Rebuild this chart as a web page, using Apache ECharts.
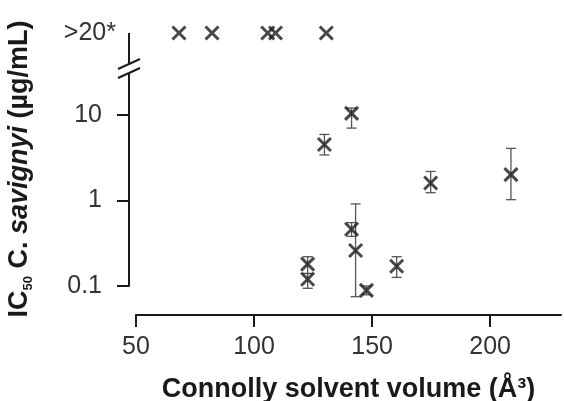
<!DOCTYPE html>
<html>
<head>
<meta charset="utf-8">
<script src="https://cdn.jsdelivr.net/npm/echarts@6/dist/echarts.min.js"></script>
<style>
html,body{margin:0;padding:0;background:#fff;}
#main{width:564px;height:401px;}
</style>
</head>
<body>
<div id="main"></div>
<script>
// compounds with measured IC50 (Connolly solvent volume, IC50, error range)
var volume   = [129.8, 141.3, 141.3, 143.0, 122.7, 122.7, 147.6, 160.4, 174.8, 208.8];
var ic50     = [4.5,   10.4,  0.46,  0.26,  0.18,  0.12,  0.089, 0.17,  1.6,   2.0];
var errLow   = [3.4,   7.0,   0.38,  0.075, 0.14,  0.094, 0.079, 0.126, 1.23,  1.02];
var errHigh  = [5.9,   12.0,  0.55,  0.91,  0.22,  0.14,  0.10,  0.22,  2.18,  4.06];
// compounds above the tested range (>20 µg/mL)
var volumeInactive = [68.2, 82.2, 105.8, 109.1, 130.6];
var inactiveLabel = ['>20*'];
var xTicks = [50, 100, 150, 200];
var yTicks = [0.1, 1, 10];

var ink = '#1a1a1a';
var font = 'Liberation Sans, Arial, sans-serif';
var crossSymbol = 'path://M0,0L1,1M1,0L0,1';

var points = [], bars = [], inactive = [];
for (var i = 0; i < volume.length; i++) {
	points.push([volume[i], ic50[i]]);
	bars.push([volume[i], errLow[i], errHigh[i]]);
}
for (var j = 0; j < volumeInactive.length; j++) {
	inactive.push([volumeInactive[j], inactiveLabel[0]]);
}

function errorBar(params, api) {
	var x = api.value(0);
	var lo = api.coord([x, api.value(1)]);
	var hi = api.coord([x, api.value(2)]);
	var w = 5;
	var st = {stroke: '#555', lineWidth: 1.3};
	return {
		type: 'group',
		children: [
			{type: 'line', shape: {x1: lo[0], y1: lo[1], x2: hi[0], y2: hi[1]}, style: st},
			{type: 'line', shape: {x1: lo[0] - w, y1: lo[1], x2: lo[0] + w, y2: lo[1]}, style: st},
			{type: 'line', shape: {x1: hi[0] - w, y1: hi[1], x2: hi[0] + w, y2: hi[1]}, style: st}
		]
	};
}

var myChart = echarts.init(document.getElementById('main'));
var option = {
	backgroundColor: '#fff',
	animation: false,
	grid: [
		{left: 136, right: 3, top: 74, bottom: 115, outerBoundsMode: 'none'},
		{left: 136, right: 3, top: 23, height: 20, outerBoundsMode: 'none'}
	],
	xAxis: [
		{
			type: 'value', gridIndex: 0, min: 50, max: 230, interval: 50,
			offset: 29,
			name: 'Connolly solvent volume (Å³)',
			nameLocation: 'middle', nameGap: 61,
			nameTextStyle: {color: ink, fontFamily: font, fontSize: 27, fontWeight: 'bold'},
			axisLine: {lineStyle: {color: ink, width: 2}},
			axisTick: {length: 12, lineStyle: {color: ink, width: 2}, customValues: xTicks},
			axisLabel: {color: '#333', fontFamily: font, fontSize: 25, margin: 20, customValues: xTicks},
			splitLine: {show: false}
		},
		{type: 'value', gridIndex: 1, min: 50, max: 230, show: false}
	],
	yAxis: [
		{
			type: 'log', gridIndex: 0, min: 0.1, max: 30, logBase: 10,
			offset: 7,
			name: '{a|IC}{s|50}{a| C. }{i|savignyi}{a| (µg/mL)}',
			nameLocation: 'middle', nameGap: 94, nameRotate: 90,
			nameTextStyle: {
				padding: [0, 0, 0, 22],
				rich: {
					a: {color: ink, fontFamily: font, fontSize: 27, fontWeight: 'bold', lineHeight: 30},
					i: {color: ink, fontFamily: font, fontSize: 27, fontWeight: 'bold', fontStyle: 'italic', lineHeight: 30},
					s: {color: ink, fontFamily: font, fontSize: 13, fontWeight: 'bold', verticalAlign: 'bottom', lineHeight: 30}
				}
			},
			axisLine: {lineStyle: {color: ink, width: 2}},
			axisTick: {length: 12, lineStyle: {color: ink, width: 2}, customValues: yTicks},
			axisLabel: {
				color: '#333', fontFamily: font, fontSize: 25, margin: 27, customValues: yTicks,
				formatter: function (v) { return String(v); }
			},
			splitLine: {show: false}
		},
		{
			type: 'category', gridIndex: 1, data: inactiveLabel,
			offset: 7,
			axisLine: {show: false},
			axisTick: {alignWithLabel: true, length: 12, lineStyle: {color: ink, width: 2}},
			axisLabel: {color: '#333', fontFamily: font, fontSize: 25, margin: 13}
		}
	],
	graphic: [
		// axis segment above the break
		{type: 'line', shape: {x1: 129, y1: 33, x2: 129, y2: 64}, style: {stroke: ink, lineWidth: 2}},
		// break marks
		{type: 'line', shape: {x1: 118, y1: 69, x2: 140, y2: 59}, style: {stroke: ink, lineWidth: 2}},
		{type: 'line', shape: {x1: 118, y1: 78, x2: 140, y2: 68}, style: {stroke: ink, lineWidth: 2}}
	],
	series: [
		{
			type: 'custom', xAxisIndex: 0, yAxisIndex: 0,
			renderItem: errorBar, clip: false,
			encode: {x: 0, y: [1, 2]},
			data: bars, z: 2
		},
		{
			type: 'scatter', xAxisIndex: 0, yAxisIndex: 0, clip: false,
			symbol: crossSymbol, symbolSize: 13,
			itemStyle: {color: 'none', borderColor: ink, borderWidth: 3},
			data: points, z: 3
		},
		{
			type: 'scatter', xAxisIndex: 1, yAxisIndex: 1, clip: false,
			symbol: crossSymbol, symbolSize: 13,
			itemStyle: {color: 'none', borderColor: ink, borderWidth: 3},
			data: inactive, z: 3
		}
	]
};
myChart.setOption(option);
</script>
</body>
</html>
